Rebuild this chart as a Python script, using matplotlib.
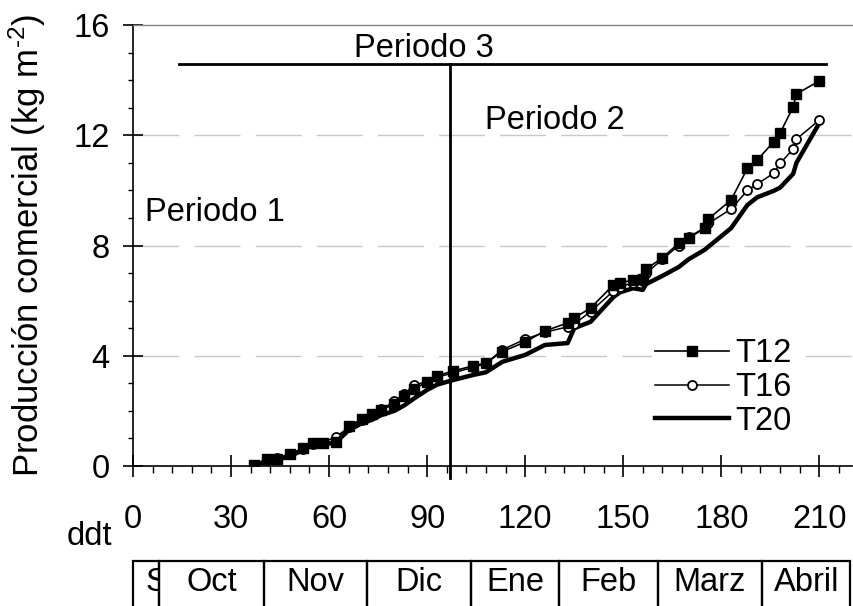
import matplotlib
matplotlib.use("Agg")
import matplotlib.pyplot as plt
from matplotlib.patches import Rectangle
from matplotlib.ticker import MultipleLocator
from matplotlib.transforms import Bbox, TransformedBbox

plt.rcParams['font.family'] = ['Liberation Sans', 'DejaVu Sans']
plt.rcParams['mathtext.fontset'] = 'custom'
plt.rcParams['mathtext.rm'] = 'Liberation Sans'
plt.rcParams['mathtext.it'] = 'Liberation Sans:italic'

# dias despues del trasplante (ddt) de cada cosecha
ddt = [37, 41, 44, 48, 52, 55, 58, 62, 66, 70, 73, 76, 80, 83, 86, 90, 93, 98,
       104, 108, 113, 120, 126, 133, 135, 140, 147, 149, 153, 156, 157, 162,
       167, 170, 175, 176, 183, 188, 191, 196, 198, 202, 203, 210]

# produccion comercial acumulada (kg m-2)
t12 = [0.05, 0.25, 0.25, 0.42, 0.65, 0.83, 0.82, 0.88, 1.45, 1.70, 1.90, 2.03,
       2.25, 2.55, 2.80, 3.05, 3.27, 3.45, 3.63, 3.74, 4.15, 4.50, 4.90, 5.19,
       5.37, 5.73, 6.57, 6.64, 6.75, 6.78, 7.15, 7.55, 8.09, 8.27, 8.63, 8.96,
       9.65, 10.80, 11.10, 11.76, 12.08, 13.03, 13.50, 13.97]
t16 = [0.03, 0.22, 0.28, 0.45, 0.62, 0.80, 0.85, 1.05, 1.40, 1.68, 1.88, 2.05,
       2.35, 2.62, 2.95, 3.05, 3.22, 3.38, 3.58, 3.72, 4.22, 4.60, 4.85, 5.05,
       5.15, 5.60, 6.35, 6.50, 6.65, 6.70, 7.00, 7.50, 8.00, 8.30, 8.65, 8.80,
       9.32, 10.00, 10.23, 10.62, 10.98, 11.50, 11.86, 12.55]
t20 = [0.02, 0.18, 0.22, 0.35, 0.58, 0.75, 0.78, 0.85, 1.30, 1.55, 1.67, 1.85,
       2.00, 2.20, 2.45, 2.76, 2.95, 3.12, 3.30, 3.40, 3.78, 4.03, 4.39, 4.46,
       5.00, 5.23, 6.13, 6.30, 6.45, 6.39, 6.60, 6.90, 7.22, 7.50, 7.85, 7.95,
       8.63, 9.47, 9.75, 9.98, 10.10, 10.60, 11.00, 12.44]

# meses (el primero sale cortado) y sus limites en ddt
months = ['S', 'Oct', 'Nov', 'Dic', 'Ene', 'Feb', 'Marz', 'Abril']
month_edges = [0, 8, 40, 71.5, 103.5, 130.5, 160.5, 192.5, 219.5]

fs = 23.5

fig = plt.figure(figsize=(8.54, 6.06), dpi=100)
ax = fig.add_axes([133 / 854, 140 / 606, 719 / 854, 441 / 606])

ax.plot(ddt, t20, color='black', lw=3.2, label='T20', zorder=3)
ax.plot(ddt, t16, color='black', lw=1.1, marker='o', ms=6.5, mfc='white',
        mec='black', mew=1.3, label='T16', zorder=4)
ax.plot(ddt, t12, color='black', lw=1.2, marker='s', ms=7.5, mfc='black',
        mec='black', label='T12', zorder=5)

ax.set_xlim(0, 220)
ax.set_ylim(0, 16)
ax.xaxis.set_major_locator(MultipleLocator(30))
ax.xaxis.set_minor_locator(MultipleLocator(6))
ax.yaxis.set_major_locator(MultipleLocator(4))
ax.yaxis.set_minor_locator(MultipleLocator(1))
ax.tick_params(axis='x', which='major', direction='inout', length=16, width=1.2,
               pad=19, labelsize=fs)
ax.tick_params(axis='x', which='minor', direction='out', length=5, width=1.0)
ax.tick_params(axis='y', which='major', direction='inout', length=14, width=1.2,
               pad=10, labelsize=fs)
ax.tick_params(axis='y', which='minor', direction='out', length=3.6, width=1.0)

for y in [4, 8, 12]:
    ax.axhline(y, color='#c8c8c8', lw=1.0, dashes=(33, 11), zorder=1)

ax.spines['right'].set_visible(False)
ax.spines['top'].set_color('#808080')
ax.spines['top'].set_linewidth(1.0)
ax.spines['left'].set_linewidth(1.2)
ax.spines['bottom'].set_linewidth(1.2)

ax.set_ylabel(r'Producción comercial (kg m$^{\text{-2}}$)', fontsize=25,
              labelpad=18)
fig.text(112 / 854, 1 - 545 / 606, 'ddt', fontsize=fs, ha='right', va='baseline')

# periodos
ax.plot([14, 212], [14.6, 14.6], color='black', lw=2, zorder=2)
ax.plot([97, 97], [14.6, -0.45], color='black', lw=2, clip_on=False, zorder=2)
ax.text(89, 14.85, 'Periodo 3', fontsize=fs, ha='center', va='baseline')
ax.text(3.7, 9.2, 'Periodo 1', fontsize=fs, ha='left', va='center')
ax.text(107.7, 12.55, 'Periodo 2', fontsize=fs, ha='left', va='center')

leg = ax.legend(handles=[ax.lines[2], ax.lines[1], ax.lines[0]],
                loc='center left', bbox_to_anchor=(0.722, 0.178),
                fontsize=fs, frameon=True, edgecolor='none', facecolor='white',
                framealpha=1, handlelength=2.25, handletextpad=0.2,
                labelspacing=0.08, borderpad=0.1, borderaxespad=0)

# barra de meses
tr = ax.get_xaxis_transform()
top, bottom = -0.215, -0.40
for i, name in enumerate(months):
    x0, x1 = month_edges[i], month_edges[i + 1]
    rect = Rectangle((x0, bottom), x1 - x0, top - bottom, transform=tr,
                     fill=False, ec='black', lw=1.6, clip_on=False)
    ax.add_patch(rect)
    if i == 0:
        t = ax.text(x0 + 3.7, -0.265, name, transform=tr, fontsize=fs,
                    ha='left', va='center')
        t.set_clip_path(None)
        t.set_clip_box(TransformedBbox(Bbox([[x0, bottom], [x1, top]]), tr))
        t.set_clip_on(True)
    else:
        ax.text((x0 + x1) / 2, -0.265, name, transform=tr, fontsize=fs,
                ha='center', va='center', clip_on=False)

fig.savefig('out.png', dpi=100)
